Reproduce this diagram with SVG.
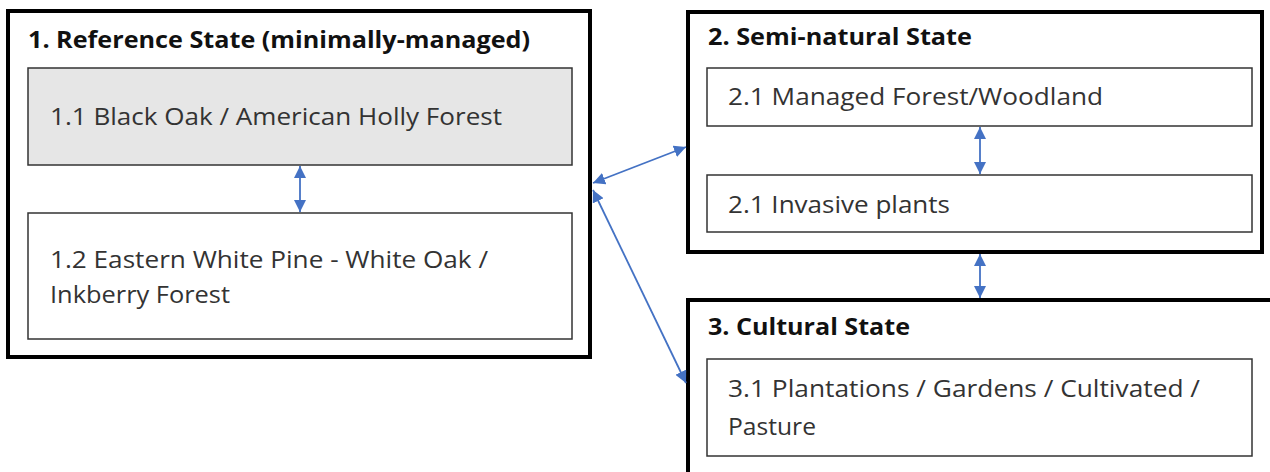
<svg xmlns="http://www.w3.org/2000/svg" width="1270" height="472" viewBox="0 0 1270 472">
<style>
.outer{fill:#fff;stroke:#000;stroke-width:4}
.inner{fill:#fff;stroke:#333;stroke-width:1.5}
.gray{fill:#e6e6e6}
.title{font-family:"Open Sans","Liberation Sans",sans-serif;font-weight:bold;font-size:23px;fill:#111}
.label{font-family:"Open Sans","Liberation Sans",sans-serif;font-size:23px;fill:#333}
.conn{stroke:#4472c4;stroke-width:1.8;fill:none;marker-start:url(#ah);marker-end:url(#ah)}
</style>
<defs>
<marker id="ah" viewBox="0 0 12 12" refX="12" refY="6" markerWidth="12" markerHeight="12" markerUnits="userSpaceOnUse" orient="auto-start-reverse">
<path d="M0,0 L12,6 L0,12 Z" fill="#4472c4"/>
</marker>
</defs>
<rect width="1270" height="472" fill="#fff"/>
<g id="state1">
<rect class="outer" x="8" y="11" width="582" height="346"/>
<text class="title" x="28" y="48" textLength="502" lengthAdjust="spacingAndGlyphs">1.  Reference State (minimally-managed)</text>
</g>
<g id="node11">
<rect class="inner gray" x="28" y="68" width="544" height="97"/>
<text class="label" x="50" y="125" textLength="452" lengthAdjust="spacingAndGlyphs">1.1  Black Oak / American Holly Forest</text>
</g>
<g id="node12">
<rect class="inner" x="28" y="213" width="544" height="126"/>
<text class="label" x="50" y="268" textLength="438" lengthAdjust="spacingAndGlyphs">1.2 Eastern White Pine - White Oak /</text>
<text class="label" x="50" y="303" textLength="180" lengthAdjust="spacingAndGlyphs">Inkberry  Forest</text>
</g>
<g id="state2">
<rect class="outer" x="688" y="12" width="574" height="240"/>
<text class="title" x="708" y="45" textLength="264" lengthAdjust="spacingAndGlyphs">2.  Semi-natural State</text>
</g>
<g id="node21">
<rect class="inner" x="707" y="68" width="545" height="58"/>
<text class="label" x="728" y="105" textLength="375" lengthAdjust="spacingAndGlyphs">2.1  Managed Forest/Woodland</text>
</g>
<g id="node22">
<rect class="inner" x="707" y="175" width="545" height="57"/>
<text class="label" x="728" y="213" textLength="222" lengthAdjust="spacingAndGlyphs">2.1  Invasive plants</text>
</g>
<g id="state3">
<rect class="outer" x="688" y="300" width="590" height="184"/>
<text class="title" x="708" y="335" textLength="202" lengthAdjust="spacingAndGlyphs">3.  Cultural State</text>
</g>
<g id="node31">
<rect class="inner" x="707" y="359" width="545" height="97"/>
<text class="label" x="728" y="397" textLength="472" lengthAdjust="spacingAndGlyphs">3.1  Plantations / Gardens / Cultivated /</text>
<text class="label" x="728" y="435" textLength="88" lengthAdjust="spacingAndGlyphs">Pasture</text>
</g>
<g id="connectors">
<line class="conn" x1="300" y1="166" x2="300" y2="212"/>
<line class="conn" x1="980" y1="127" x2="980" y2="174"/>
<line class="conn" x1="980" y1="254" x2="980" y2="298"/>
<line class="conn" x1="593" y1="183" x2="686" y2="147"/>
<line class="conn" x1="593" y1="190" x2="686" y2="383"/>
</g>
</svg>
